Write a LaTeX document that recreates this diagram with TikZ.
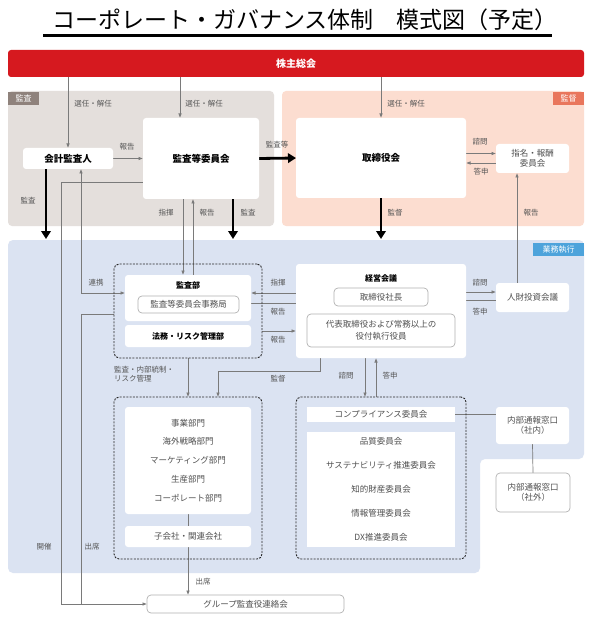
\documentclass[tikz,border=0pt]{standalone}
\usepackage{fontspec}
\setmainfont{Noto Sans CJK JP}
\usetikzlibrary{arrows.meta,calc}
\pgfdeclarelayer{bg}
\pgfdeclarelayer{lines}
\pgfsetlayers{bg,lines,main}
\definecolor{redbar}{HTML}{D6191F}
\definecolor{grayarea}{HTML}{E4DFDC}
\definecolor{graytag}{HTML}{8F827C}
\definecolor{salmonarea}{HTML}{FCDDD0}
\definecolor{salmontag}{HTML}{E9765C}
\definecolor{bluearea}{HTML}{DBE3F2}
\definecolor{bluetag}{HTML}{4DA3DB}
\definecolor{lblgray}{HTML}{555555}
\definecolor{boxgray}{HTML}{505050}
\definecolor{linegray}{HTML}{7A7A7A}
\newcommand{\fsz}[2]{\fontsize{#1}{#2}\selectfont}
\begin{document}
\begin{tikzpicture}[x=1pt,y=-1pt,
  every node/.style={inner sep=0pt,outer sep=0pt},
  wbox/.style={fill=white,rounded corners=3pt},
  bold/.style={font=\bfseries\fsz{9.5}{11},text=black},
  boldsm/.style={font=\bfseries\fsz{8}{10},text=black},
  gtext/.style={font=\fsz{8.5}{10.5},text=boxgray,align=center},
  gbox/.style={fill=white,draw=gray!60,line width=0.7pt,rounded corners=4pt},
  grp/.style={draw=black!85,dash pattern=on 2pt off 1.3pt,line width=0.9pt,rounded corners=5pt},
  lbl/.style={font=\fsz{7.5}{9.5},text=lblgray},
  tagn/.style={text=white,font=\fsz{8}{10},minimum height=13pt},
  thin/.style={draw=linegray,line width=0.7pt},
  tarr/.style={thin,-{Latex[length=4.5pt,width=3.6pt]}},
  tarr2/.style={thin,{Latex[length=4.5pt,width=3.6pt]}-{Latex[length=4.5pt,width=3.6pt]}},
  thick/.style={draw=black,line width=2.8pt,-{Triangle[length=8pt,width=9.5pt]}}
]
\useasboundingbox (0,0) rectangle (596,620);

% areas
\begin{pgfonlayer}{bg}
\fill[white] (0,0) rectangle (596,620);
\node[fill=grayarea,rounded corners=4pt,minimum width=266pt,minimum height=135pt] (areaA) at (141,158.5) {};
\node[fill=salmonarea,rounded corners=4pt,minimum width=302pt,minimum height=135pt] (areaB) at (433,158.5) {};
\fill[bluearea,rounded corners=5pt] (8,240) -- (584,240) -- (584,459) -- (480,459) -- (480,573) -- (8,573) -- cycle;
\end{pgfonlayer}

% title
\node (title) at (305,20) {\fsz{23}{25}\selectfont コーポレート・ガバナンス体制　模式図（予定）};
\draw[line width=2.6pt] (43,35.5) -- (552,35.5);

\node[tagn,fill=graytag,minimum width=31pt] (tagA) at (23.5,98.5) {監査};
\node[tagn,fill=salmontag,minimum width=31pt] (tagB) at (568.5,98.5) {監督};
\node[tagn,fill=bluetag,minimum width=51pt] (tagC) at (558.5,249.5) {業務執行};

% shareholders
\node[fill=redbar,rounded corners=3pt,minimum width=576pt,minimum height=27pt,text=white,font=\bfseries\fsz{10}{12}] (share) at (296,63.5) {株主総会};

% top nodes
\node[wbox,bold,minimum width=90pt,minimum height=21pt] (kaikei) at (68,158.5) {会計監査人};
\node[wbox,bold,minimum width=116pt,minimum height=81pt] (kansatou) at (201,158.5) {監査等委員会};
\node[wbox,bold,minimum width=170pt,minimum height=80pt] (tori) at (381,158) {取締役会};
\node[wbox,gtext,minimum width=73pt,minimum height=29pt] (shimei) at (532.5,158.5) {指名・報酬\\委員会};

% group 1
\node[grp,minimum width=148pt,minimum height=94pt] (g1) at (188,311) {};
\node[wbox,minimum width=126pt,minimum height=46pt] (kansabu) at (188,298) {};
\node[boldsm] (kansabuT) at (188,285) {監査部};
\node[gbox,gtext,minimum width=101pt,minimum height=17pt] (jimu) at (188.5,304.5) {監査等委員会事務局};
\node[wbox,boldsm,minimum width=126pt,minimum height=22pt] (houmu) at (188,336) {法務・リスク管理部};

% keiei
\node[wbox,minimum width=170pt,minimum height=94pt] (keiei) at (381,311) {};
\node[boldsm] (keieiT) at (381,278) {経営会議};
\node[gbox,gtext,minimum width=94pt,minimum height=18pt] (shachou) at (381,297) {取締役社長};
\node[gbox,gtext,minimum width=148pt,minimum height=33pt,font=\fsz{8.5}{12}] (daihyou) at (381,330.5) {代表取締役および常務以上の\\役付執行役員};
\node[wbox,gtext,minimum width=73pt,minimum height=29pt] (jinzai) at (532.5,297.5) {人財投資会議};

% group 2
\node[grp,minimum width=148pt,minimum height=162pt] (g2) at (188,478) {};
\node[wbox,gtext,minimum width=126pt,minimum height=107pt,font=\fsz{8.5}{18.75}] (depts) at (188,460.5) {事業部門\\海外戦略部門\\マーケティング部門\\生産部門\\コーポレート部門};

% group 3
\node[grp,minimum width=170pt,minimum height=162pt] (g3) at (381,478) {};
\node[fill=white,gtext,minimum width=148pt,minimum height=15pt] (comp) at (381,414.5) {コンプライアンス委員会};
\node[fill=white,gtext,minimum width=148pt,minimum height=115pt,font=\fsz{8.5}{24}] (comms) at (381,489.5) {品質委員会\\サステナビリティ推進委員会\\知的財産委員会\\情報管理委員会\\DX推進委員会};

% whistle
\node[wbox,gtext,minimum width=73pt,minimum height=37pt,font=\fsz{8.5}{10}] (naibu1) at (532.5,425.5) {内部通報窓口\\（社内）};
\node[gbox,gtext,minimum width=74pt,minimum height=39pt,font=\fsz{8.5}{10}] (naibu2) at (533,492.5) {内部通報窓口\\（社外）};

% group liaison
\node[gbox,gtext,minimum width=197pt,minimum height=18pt] (grpmtg) at (245.5,604) {グループ監査役連絡会};

\coordinate (c61) at (61,604);
\coordinate (c81) at (81,604);
\coordinate (endA) at (46,239);
\coordinate (endB) at (233,239);
\coordinate (endC) at (381,239);

\begin{pgfonlayer}{lines}
\draw[tarr] (share.south -| kaikei.north) -- (kaikei.north);
\draw[tarr] ([xshift=-21pt]kansatou.north |- share.south) -- ([xshift=-21pt]kansatou.north);
\draw[tarr] (share.south -| tori.north) -- (tori.north);
\draw[tarr] (kaikei.east) -- (kansatou.west);
\draw[thick] (kansatou.east) -- (tori.west);
\draw[tarr] ([yshift=4.5pt]tori.east) -- ([yshift=4.5pt]tori.east -| shimei.west);
\draw[tarr] ([yshift=-4.5pt]shimei.west) -- ([yshift=-4.5pt]shimei.west -| tori.east);
\draw[thick] (kaikei.south -| endA) -- (endA);
\draw[thick] (kansatou.south -| endB) -- (endB);
\draw[thick] (tori.south) -- (endC);
\draw[tarr] ([xshift=-5pt]kansabu.north |- kansatou.south) -- ([xshift=-5pt]kansabu.north);
\draw[tarr] ([xshift=5pt]kansabu.north) -- ([xshift=5pt]kansabu.north |- kansatou.south);
\draw[tarr2] ([xshift=13pt]kaikei.south) |- ([yshift=5pt]kansabu.west);
\draw[tarr] ([yshift=-23.5pt]kansatou.west) -| (c61) -- (grpmtg.west);
\draw[thin] ([yshift=-3pt]g1.west) -| (c81);
\draw[tarr] ([yshift=4pt]shachou.west) -- ([yshift=4pt]shachou.west -| kansabu.east);
\draw[tarr] ([yshift=-6pt]shachou.west -| kansabu.east) -- ([yshift=-6pt]shachou.west);
\draw[tarr] ([yshift=-20pt]g1.east) -- ([yshift=-20pt]g1.east -| keiei.west);
\draw[tarr] ([xshift=-61pt]keiei.south) -- ++(0,13) -| ([xshift=30pt]g2.north);
\draw[tarr] (g1.south) -- (g2.north);
\draw[tarr] ([xshift=-16pt]keiei.south) -- ([xshift=-16pt]g3.north);
\draw[tarr] ([xshift=-5pt]g3.north) -- ([xshift=-5pt]keiei.south);
\draw[tarr] ([yshift=5pt]shachou.east) -- ([yshift=5pt]shachou.east -| jinzai.west);
\draw[tarr] ([yshift=-3pt]jinzai.west) -- ([yshift=-3pt]jinzai.west -| shachou.east);
\draw[tarr] ([xshift=-15.5pt]jinzai.north) -- ([xshift=-15.5pt]shimei.south);
\draw[thin] (comp.east) -- (comp.east -| naibu1.west);
\draw[thin] (naibu1.south) -- (naibu2.north);
\draw[tarr] (depts.south) -- (depts.south |- grpmtg.north);
\end{pgfonlayer}
\node[wbox,gtext,minimum width=126pt,minimum height=21pt] (kogai) at (188,536.5) {子会社・関連会社};

% labels
\node[lbl] (l1) at (93,104) {選任・解任};
\node[lbl] (l2) at (204,104) {選任・解任};
\node[lbl] (l3) at (406,104) {選任・解任};
\node[lbl] (l4) at (127,147) {報告};
\node[lbl] (l5) at (277,145) {監査等};
\node[lbl] (l6) at (480,142) {諮問};
\node[lbl] (l7) at (481,172) {答申};
\node[lbl] (l8) at (28,201) {監査};
\node[lbl] (l9) at (166,213) {指揮};
\node[lbl] (l10) at (207,213) {報告};
\node[lbl] (l11) at (248,213) {監査};
\node[lbl] (l12) at (395,213) {監督};
\node[lbl] (l13) at (531,213) {報告};
\node[lbl] (l14) at (96,283) {連携};
\node[lbl] (l15) at (278,283) {指揮};
\node[lbl] (l16) at (278,312) {報告};
\node[lbl] (l17) at (278,340) {報告};
\node[lbl] (l18) at (480,283) {諮問};
\node[lbl] (l19) at (480,312) {答申};
\node[lbl,anchor=north west,align=left] (l20) at (114,366) {監査・内部統制・\\リスク管理};
\node[lbl] (l21) at (278,379) {監督};
\node[lbl] (l22) at (346,376) {諮問};
\node[lbl] (l23) at (390,376) {答申};
\node[lbl] (l24) at (44,547) {開催};
\node[lbl] (l25) at (92,547) {出席};
\node[lbl] (l26) at (203,582) {出席};
\end{tikzpicture}
\end{document}
